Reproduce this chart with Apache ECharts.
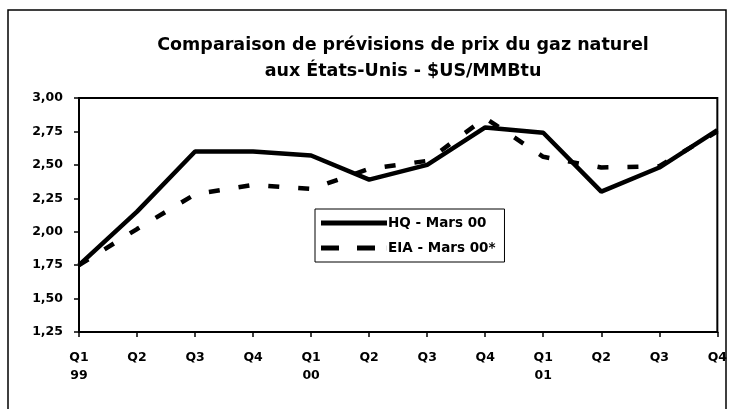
<!DOCTYPE html>
<html>
<head>
    <meta charset="utf-8">
    <script src="https://cdn.jsdelivr.net/npm/echarts@6/dist/echarts.min.js"></script>
    <style>
        body { margin: 0; background: #fff; }
    </style>
</head>
<body>
<div id="chart" style="width: 730px; height: 409px;"></div>
<script type="text/javascript">
    let quarters = ['Q1\n99', 'Q2', 'Q3', 'Q4', 'Q1\n00', 'Q2', 'Q3', 'Q4', 'Q1\n01', 'Q2', 'Q3', 'Q4']
    let hqValues = [1.75, 2.15, 2.60, 2.60, 2.57, 2.39, 2.50, 2.78, 2.74, 2.30, 2.48, 2.76]
    let eiaValues = [1.75, 2.02, 2.28, 2.35, 2.32, 2.47, 2.53, 2.85, 2.56, 2.48, 2.49, 2.75]
    let seriesNames = ['HQ - Mars 00', 'EIA - Mars 00*']

    let font = '"DejaVu Sans", "Liberation Sans", Arial, sans-serif'
    let myChart = echarts.init(document.getElementById('chart'))

    // legend icons: solid bar and two dashes (tiny sliver at the end keeps the width)
    let solidIcon = 'path://M0,0H66V5H0Z'
    let dashIcon = 'path://M0,0H18V5H0Z M36,0H54V5H36Z M65.9,0H66V5H65.9Z'

    let option = {
        backgroundColor: '#fff',
        animation: false,
        title: {
            text: 'Comparaison de prévisions de prix du gaz naturel\naux États-Unis - $US/MMBtu',
            left: 398,
            top: 27,
            textAlign: 'center',
            textStyle: {
                fontFamily: font,
                fontWeight: 'bold',
                fontSize: 17.5,
                lineHeight: 26,
                color: '#000'
            }
        },
        graphic: [{
            type: 'rect',
            shape: { x: 8, y: 10, width: 718, height: 420 },
            style: { fill: 'none', stroke: '#000', lineWidth: 1.5 }
        }],
        grid: {
            left: 79,
            right: 12,
            top: 98,
            bottom: 77,
            show: true,
            borderColor: '#000',
            borderWidth: 2,
            backgroundColor: 'transparent'
        },
        legend: {
            orient: 'vertical',
            left: 315,
            top: 209,
            padding: [7, 9, 7, 6],
            itemWidth: 66,
            itemHeight: 14,
            itemGap: 11,
            borderColor: '#000',
            borderWidth: 1,
            backgroundColor: '#fff',
            data: [
                { name: seriesNames[0], icon: solidIcon },
                { name: seriesNames[1], icon: dashIcon }
            ],
            itemStyle: { color: '#000' },
            textStyle: {
                fontFamily: font,
                fontWeight: 'bold',
                fontSize: 13.5,
                color: '#000',
                padding: [0, 0, 0, -4]
            }
        },
        xAxis: {
            type: 'category',
            boundaryGap: false,
            data: quarters,
            axisLine: { lineStyle: { color: '#000', width: 2 } },
            axisTick: { show: true, length: 5, lineStyle: { color: '#000', width: 1.5 } },
            axisLabel: {
                color: '#000',
                fontFamily: font,
                fontWeight: 'bold',
                fontSize: 12.5,
                lineHeight: 18,
                margin: 17,
                interval: 0
            }
        },
        yAxis: {
            type: 'value',
            min: 1.25,
            max: 3.00,
            interval: 0.25,
            splitLine: { show: false },
            axisLine: { show: true, lineStyle: { color: '#000', width: 2 } },
            axisTick: { show: true, length: 5, lineStyle: { color: '#000', width: 1.5 } },
            axisLabel: {
                color: '#000',
                fontFamily: font,
                fontWeight: 'bold',
                fontSize: 12.5,
                margin: 16,
                formatter: function (v) { return v.toFixed(2).replace('.', ',') }
            }
        },
        series: [
            {
                name: seriesNames[0],
                type: 'line',
                data: hqValues,
                symbol: 'none',
                z: 3,
                lineStyle: { color: '#000', width: 4.5 },
                itemStyle: { color: '#000' }
            },
            {
                name: seriesNames[1],
                type: 'line',
                data: eiaValues,
                symbol: 'none',
                z: 2,
                lineStyle: { color: '#000', width: 4.5, type: [11, 19] },
                itemStyle: { color: '#000' }
            }
        ]
    }
    myChart.setOption(option)
</script>
</body>
</html>
